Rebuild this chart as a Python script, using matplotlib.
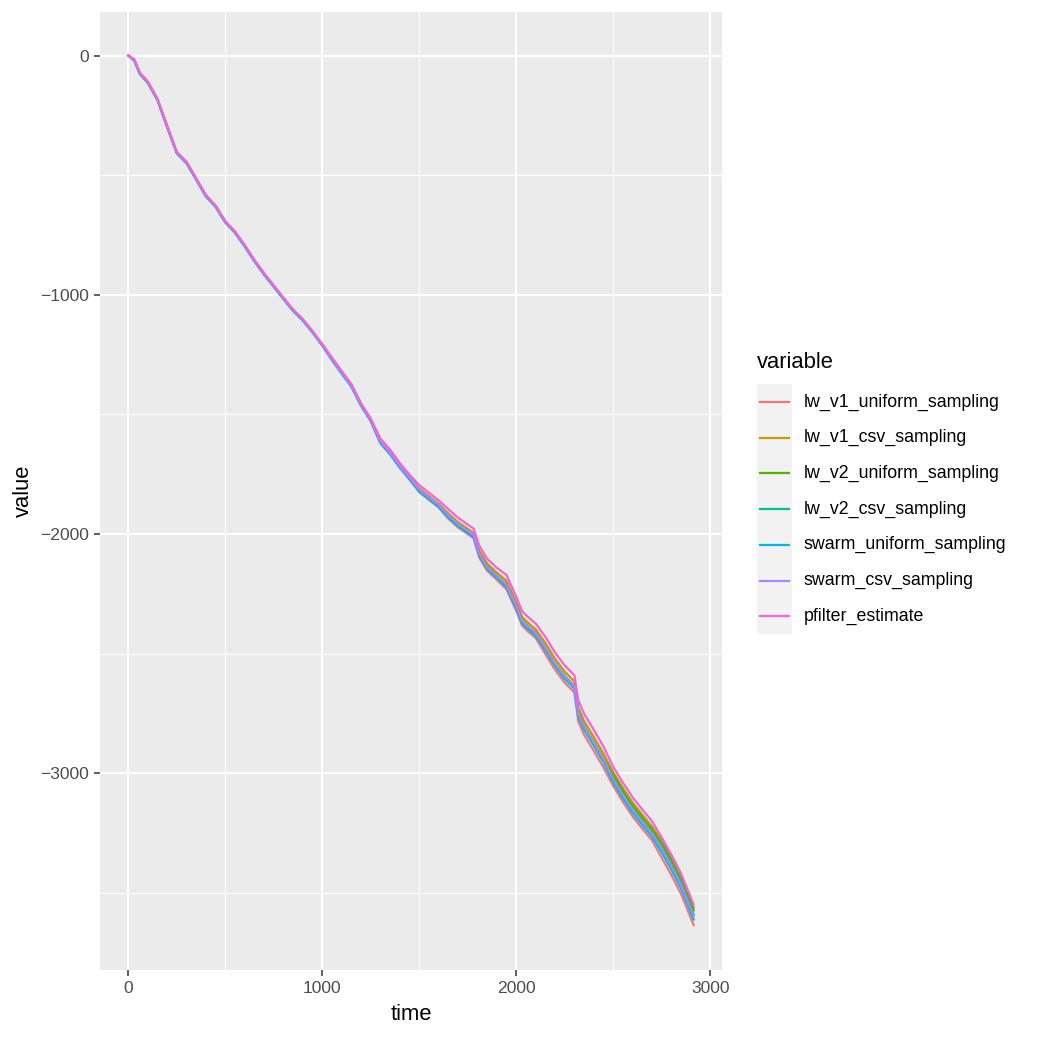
import matplotlib
matplotlib.use('Agg')
import matplotlib.pyplot as plt
from matplotlib.lines import Line2D
from matplotlib.patches import Rectangle

plt.rcParams['font.family'] = ['Liberation Sans', 'DejaVu Sans']

# data
time = [0, 30, 60, 100, 150, 200, 250, 300, 350, 400, 450, 500, 550, 600, 650,
        700, 750, 800, 850, 900, 950, 1000, 1050, 1100, 1150, 1200, 1250, 1300,
        1350, 1400, 1450, 1500, 1550, 1600, 1650, 1700, 1750, 1780, 1810, 1850,
        1900, 1950, 2000, 2030, 2060, 2100, 2150, 2200, 2250, 2300, 2320, 2350,
        2400, 2450, 2500, 2550, 2600, 2650, 2700, 2750, 2800, 2850, 2915]

lw_v1_uniform_sampling = [
    0, -19, -76, -112, -184, -297, -407, -448, -517, -587, -631, -696, -739,
    -796, -858, -914, -965, -1016, -1066, -1106, -1156, -1210, -1272, -1328,
    -1383, -1463, -1527, -1621, -1667, -1723, -1772, -1825, -1857, -1889,
    -1936, -1972, -2000, -2017, -2099, -2153, -2191, -2231, -2321, -2382,
    -2406, -2434, -2501, -2567, -2621, -2662, -2783, -2839, -2906, -2976,
    -3052, -3119, -3180, -3231, -3280, -3353, -3425, -3504, -3634]

lw_v1_csv_sampling = [
    0, -17, -74, -110, -182, -295, -405, -446, -515, -585, -629, -694, -737,
    -794, -856, -912, -963, -1014, -1064, -1104, -1154, -1208, -1267, -1323,
    -1378, -1458, -1522, -1610, -1656, -1712, -1761, -1809, -1841, -1873,
    -1914, -1950, -1978, -1995, -2069, -2123, -2161, -2195, -2285, -2346,
    -2370, -2398, -2455, -2521, -2575, -2616, -2725, -2781, -2848, -2918,
    -2994, -3061, -3122, -3173, -3222, -3281, -3353, -3432, -3562]

lw_v2_uniform_sampling = [
    0, -18, -75, -111, -183, -296, -406, -447, -516, -586, -630, -695, -738,
    -795, -857, -913, -964, -1015, -1065, -1105, -1155, -1209, -1269, -1325,
    -1380, -1460, -1524, -1614, -1660, -1716, -1765, -1815, -1847, -1879,
    -1924, -1960, -1988, -2005, -2081, -2135, -2173, -2209, -2299, -2360,
    -2384, -2412, -2473, -2539, -2593, -2634, -2745, -2801, -2868, -2938,
    -3006, -3073, -3134, -3185, -3234, -3292, -3364, -3443, -3573]

lw_v2_csv_sampling = [
    0, -19, -76, -112, -184, -297, -407, -448, -517, -587, -631, -696, -739,
    -796, -858, -914, -965, -1016, -1066, -1106, -1156, -1210, -1270, -1326,
    -1381, -1461, -1525, -1616, -1662, -1718, -1767, -1818, -1850, -1882,
    -1927, -1963, -1991, -2008, -2087, -2141, -2179, -2215, -2305, -2366,
    -2390, -2418, -2479, -2545, -2599, -2640, -2753, -2809, -2876, -2946,
    -3020, -3087, -3148, -3199, -3248, -3309, -3381, -3460, -3590]

swarm_uniform_sampling = [
    0, -21, -78, -114, -186, -299, -409, -450, -519, -589, -633, -698, -741,
    -798, -860, -916, -967, -1018, -1068, -1108, -1158, -1212, -1273, -1329,
    -1384, -1464, -1528, -1620, -1666, -1722, -1771, -1822, -1854, -1886,
    -1931, -1967, -1995, -2012, -2091, -2145, -2183, -2221, -2311, -2372,
    -2396, -2424, -2485, -2551, -2605, -2646, -2761, -2817, -2884, -2954,
    -3036, -3103, -3164, -3215, -3264, -3330, -3402, -3481, -3611]

swarm_csv_sampling = [
    0, -17, -74, -110, -182, -295, -405, -446, -515, -585, -629, -694, -737,
    -794, -856, -912, -963, -1014, -1064, -1104, -1154, -1208, -1268, -1324,
    -1379, -1459, -1523, -1613, -1659, -1715, -1764, -1814, -1846, -1878,
    -1922, -1958, -1986, -2003, -2083, -2137, -2175, -2211, -2301, -2362,
    -2386, -2414, -2475, -2541, -2595, -2636, -2749, -2805, -2872, -2942,
    -3024, -3091, -3152, -3203, -3252, -3316, -3388, -3467, -3597]

pfilter_estimate = [
    0, -15, -72, -108, -180, -293, -403, -444, -513, -583, -627, -692, -735,
    -792, -854, -910, -961, -1012, -1062, -1102, -1152, -1206, -1262, -1318,
    -1373, -1453, -1517, -1601, -1647, -1703, -1752, -1795, -1827, -1859,
    -1896, -1932, -1960, -1977, -2049, -2103, -2141, -2171, -2261, -2322,
    -2346, -2374, -2429, -2495, -2549, -2590, -2695, -2751, -2818, -2888,
    -2972, -3039, -3100, -3151, -3200, -3268, -3340, -3419, -3549]

names = ['lw_v1_uniform_sampling', 'lw_v1_csv_sampling', 'lw_v2_uniform_sampling',
         'lw_v2_csv_sampling', 'swarm_uniform_sampling', 'swarm_csv_sampling',
         'pfilter_estimate']
series = [lw_v1_uniform_sampling, lw_v1_csv_sampling, lw_v2_uniform_sampling,
          lw_v2_csv_sampling, swarm_uniform_sampling, swarm_csv_sampling,
          pfilter_estimate]
colors = ['#F8766D', '#C49A00', '#53B400', '#00C094', '#00B6EB', '#A58AFF', '#FB61D7']

W = 1038
fig = plt.figure(figsize=(W / 100, W / 100), dpi=100)
ax = fig.add_axes([100 / W, 1 - 970 / W, 622 / W, 958 / W])
ax.set_facecolor('#EBEBEB')

for y, c in zip(series, colors):
    ax.plot(time, y, color=c, linewidth=1.6, solid_joinstyle='round')

ax.set_xlim(-146, 3061)
ax.set_ylim(-3822, 182)
ax.set_xticks([0, 1000, 2000, 3000])
ax.set_yticks([-3000, -2000, -1000, 0])
ax.set_xticks([500, 1500, 2500], minor=True)
ax.set_yticks([-3500, -2500, -1500, -500], minor=True)
ax.grid(which='major', color='white', linewidth=1.5)
ax.grid(which='minor', color='white', linewidth=0.8)
ax.set_axisbelow(True)
for s in ax.spines.values():
    s.set_visible(False)
ax.tick_params(which='major', length=4.5, width=1.1, color='#333333',
               labelsize=12.6, labelcolor='#4D4D4D', pad=3.2)
ax.tick_params(which='minor', length=0)
ax.set_xlabel('time', fontsize=15.8, labelpad=6)
ax.set_ylabel('value', fontsize=15.8, labelpad=5)

# legend
fig.text(757 / W, 1 - 362 / W, 'variable', fontsize=15.8, va='center', ha='left')
fig.add_artist(Rectangle((757 / W, 1 - 634 / W), 35 / W, 250 / W,
                         transform=fig.transFigure, facecolor='#F2F2F2',
                         edgecolor='none'))
for i, (n, c) in enumerate(zip(names, colors)):
    yy = 1 - (402 + i * 35.7) / W
    fig.add_artist(Line2D([760 / W, 789 / W], [yy, yy], transform=fig.transFigure,
                          color=c, linewidth=1.6))
    fig.text(804 / W, yy, n, fontsize=12.8, va='center', ha='left')

fig.savefig('out.png', dpi=100)
plt.close(fig)
